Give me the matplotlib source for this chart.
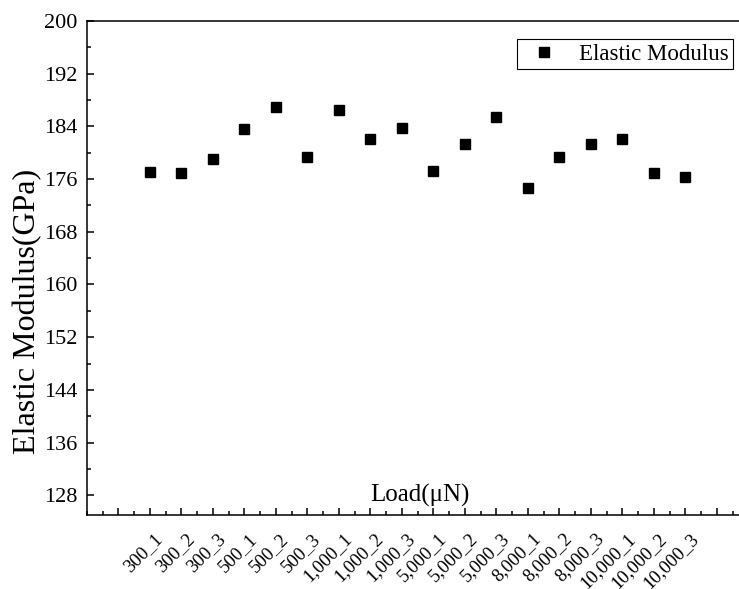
import matplotlib
matplotlib.use('Agg')
import matplotlib.pyplot as plt
import matplotlib.transforms as mtrans
import numpy as np
from matplotlib.ticker import MultipleLocator

plt.rcParams['font.family'] = ['Liberation Serif', 'DejaVu Serif']

# data
loads = ['300_1', '300_2', '300_3', '500_1', '500_2', '500_3',
         '1,000_1', '1,000_2', '1,000_3', '5,000_1', '5,000_2', '5,000_3',
         '8,000_1', '8,000_2', '8,000_3', '10,000_1', '10,000_2', '10,000_3']
modulus = [177.1, 176.9, 179.0, 183.6, 186.9, 179.3,
           186.5, 182.1, 183.8, 177.2, 181.3, 185.4,
           174.7, 179.4, 181.4, 182.1, 177.0, 176.3]
yticks = [128, 136, 144, 152, 160, 168, 176, 184, 192, 200]

fig = plt.figure(figsize=(7.39, 5.89), dpi=100)
# right part of the axes runs past the picture edge, as in the original
ax = fig.add_axes([0.1177, 0.1256, 0.895, 0.8387])

xpos = np.arange(1, len(loads) + 1)
ax.plot(xpos, modulus, 's', color='black', ms=7.5, linestyle='none',
        label='Elastic Modulus')

ax.set_xlim(-1, 20)
ax.set_ylim(125, 200)
ax.set_xticks(np.arange(0, 21))
ax.set_xticklabels([''] + loads + ['', ''])
ax.xaxis.set_minor_locator(MultipleLocator(0.5))
ax.set_yticks(yticks)
ax.yaxis.set_minor_locator(MultipleLocator(4))

ax.tick_params(which='both', direction='in', width=1.1)
ax.tick_params(which='major', length=5)
ax.tick_params(which='minor', length=3)
ax.tick_params(axis='y', labelsize=16, pad=7)
ax.tick_params(axis='x', labelsize=13.5, pad=10)
# shift the slanted labels down-right like the original
shift = mtrans.ScaledTranslation(0.10, -0.07, fig.dpi_scale_trans)
for lab in ax.get_xticklabels():
    lab.set_rotation(45)
    lab.set_ha('right')
    lab.set_va('center')
    lab.set_rotation_mode('anchor')
    lab.set_transform(lab.get_transform() + shift)

for sp in ax.spines.values():
    sp.set_linewidth(1.1)

ax.set_ylabel('Elastic Modulus(GPa)', fontsize=23)
ax.yaxis.set_label_coords(-0.068, 0.413)
ax.text(0.503, 0.028, 'Load(μN)', transform=ax.transAxes, fontsize=18,
        ha='center', va='baseline')

leg = ax.legend(loc='upper right', bbox_to_anchor=(733/739, 1 - 39/589),
                bbox_transform=fig.transFigure, borderaxespad=0,
                fontsize=16.5, fancybox=False, framealpha=1, edgecolor='black',
                handletextpad=0.5, borderpad=0.2, handlelength=2.0)
leg.get_frame().set_linewidth(0.8)

fig.savefig('out.png', dpi=100)
